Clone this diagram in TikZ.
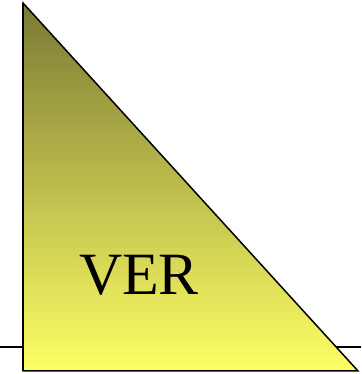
\documentclass[tikz,border=0pt]{standalone}
\usepackage{fontspec}
\setmainfont{Liberation Serif}
\definecolor{olivetop}{RGB}{122,122,52}
\definecolor{yellowbot}{RGB}{255,255,102}
\begin{document}
\begin{tikzpicture}[x=1pt,y=1pt,
  baseline/.style={line width=2.8pt,black},
  tri/.style={top color=olivetop,bottom color=yellowbot,draw=black,line width=1.5pt},
  lbl/.style={font=\fontsize{60}{60}\selectfont,anchor=base,inner sep=0pt}]
\useasboundingbox (0,0) rectangle (361,374);
\coordinate (L) at (0,27);
\coordinate (R) at (361,27);
\draw[baseline] (L) -- (R);
\coordinate (A) at (23,371);
\coordinate (B) at (23,3);
\coordinate (C) at (358,3);
\shade[tri] (A) -- (B) -- (C) -- cycle;
\draw[line width=2.4pt] (A) -- (B);
\node[lbl] (ver) at (139,79) {VER};
\end{tikzpicture}
\end{document}
